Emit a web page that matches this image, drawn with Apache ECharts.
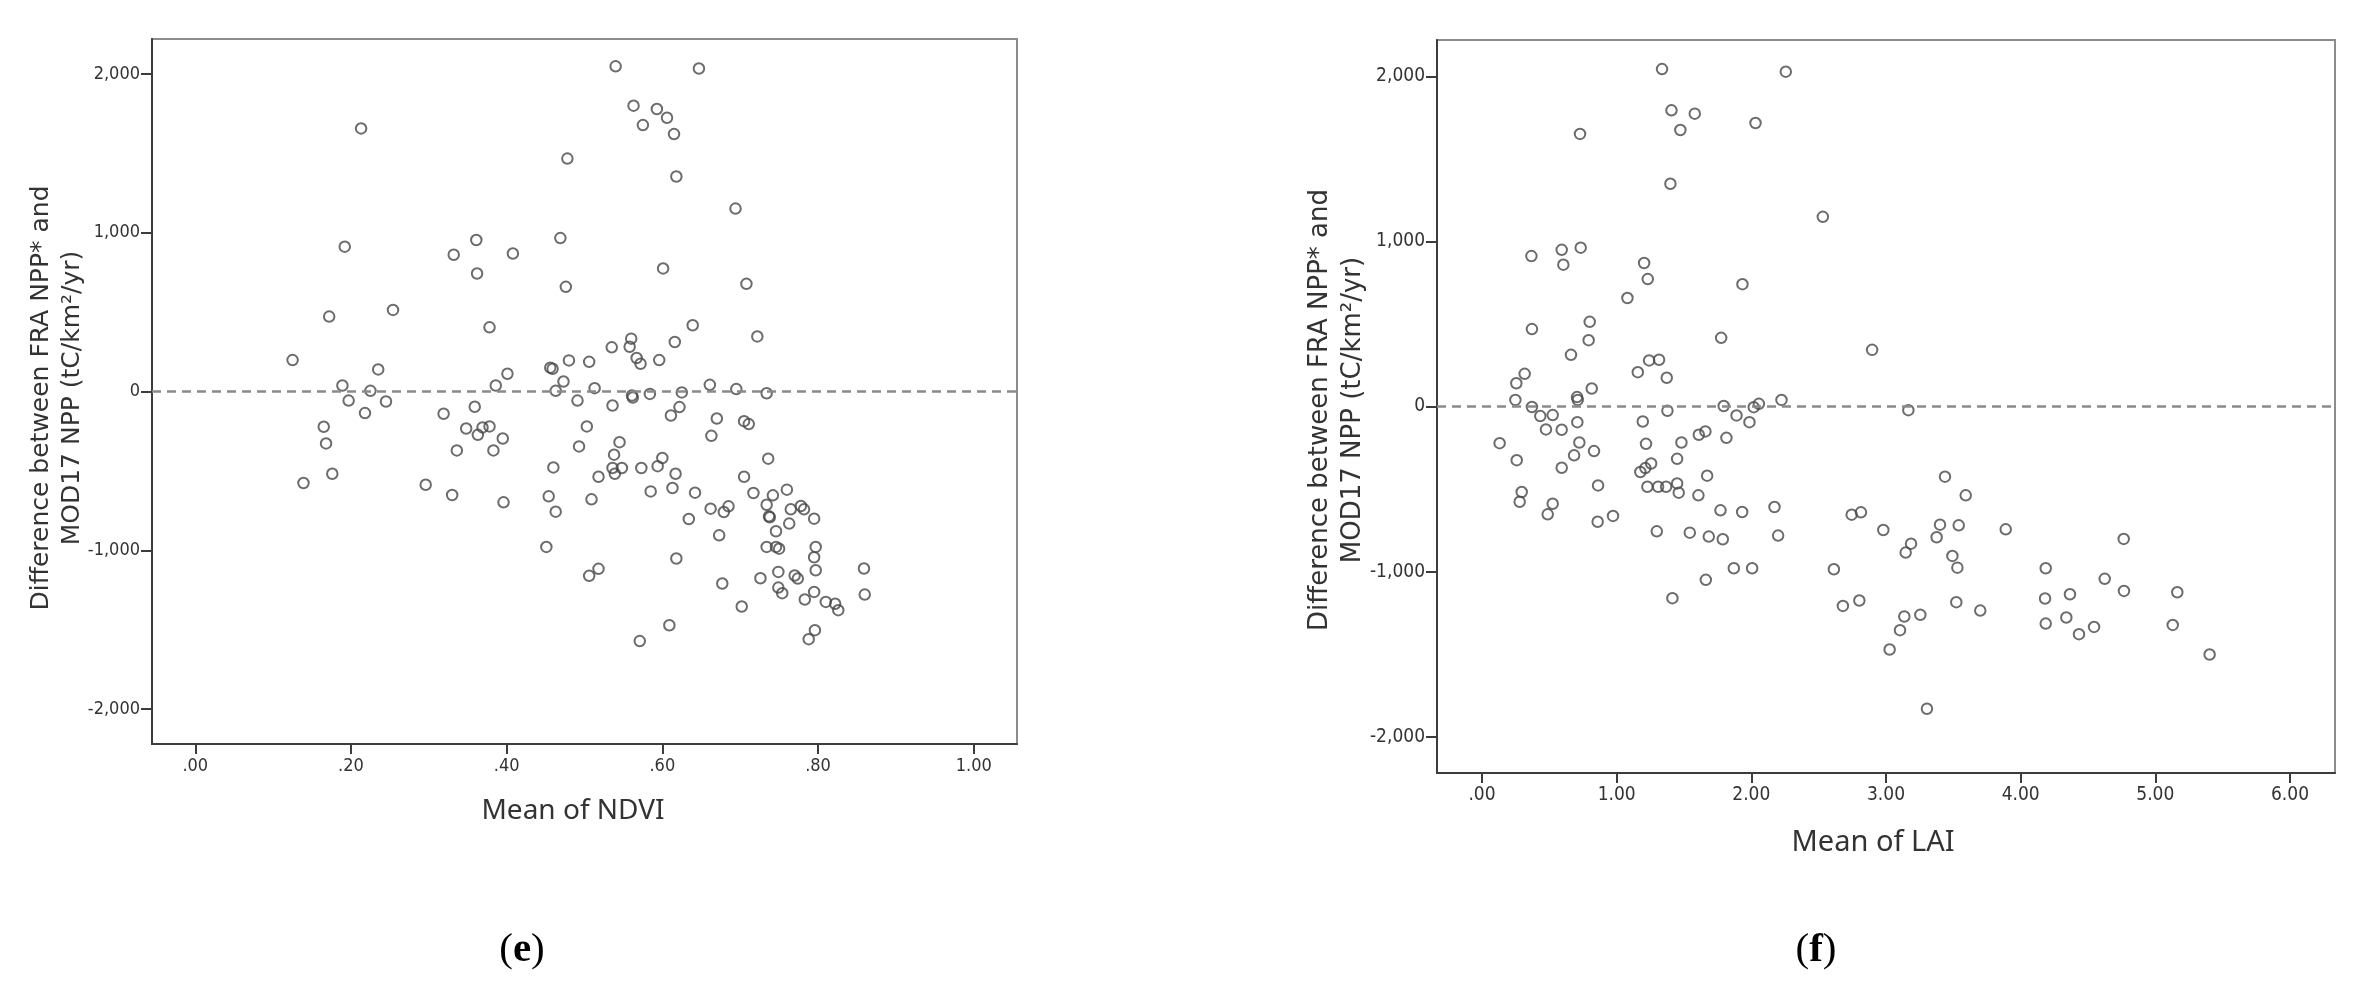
<!DOCTYPE html>
<html lang="en">
<head>
    <meta charset="UTF-8">
    <title>Difference between FRA NPP* and MOD17 NPP</title>
    <style>
        html, body { margin: 0; padding: 0; background: #fff; }
        #main { width: 2361px; height: 985px; }
    </style>
</head>
<body>
<div id="main"></div>
<script src="https://cdn.jsdelivr.net/npm/echarts@6/dist/echarts.min.js"></script>
<script>
    // (e) mean of NDVI vs difference
    const ndviMean = [
        0.213, 0.478, 0.192, 0.332, 0.361, 0.362, 0.408, 0.469, 0.476, 0.172, 0.254, 0.378, 0.125, 0.235, 0.189, 0.225,
        0.386, 0.401, 0.456, 0.459, 0.473, 0.463, 0.480,
        0.540, 0.647, 0.563, 0.593, 0.606, 0.575, 0.615, 0.618, 0.694, 0.601, 0.708, 0.639, 0.722, 0.560, 0.535, 0.558,
        0.616, 0.567, 0.572, 0.596, 0.506, 0.513, 0.661, 0.695, 0.734, 0.625, 0.584, 0.561, 0.562,
        0.491, 0.536, 0.622, 0.611, 0.503, 0.493, 0.545, 0.538, 0.536, 0.539, 0.548, 0.518, 0.509, 0.573, 0.594, 0.600,
        0.617, 0.585, 0.613, 0.642, 0.670, 0.663, 0.705, 0.711, 0.736, 0.705, 0.717, 0.742, 0.760, 0.734, 0.737, 0.738,
        0.765, 0.778, 0.782, 0.795, 0.763, 0.746, 0.662, 0.685, 0.679, 0.634, 0.673, 0.734, 0.746, 0.750, 0.797, 0.795,
        0.797, 0.618, 0.518, 0.506, 0.677, 0.726, 0.749, 0.770, 0.774, 0.749, 0.754, 0.702, 0.783, 0.795, 0.810, 0.822,
        0.826, 0.859, 0.860, 0.609, 0.571, 0.796, 0.788,
        0.197, 0.245, 0.218, 0.165, 0.168, 0.176, 0.139, 0.319, 0.359, 0.348, 0.363, 0.369, 0.378, 0.395, 0.336, 0.383,
        0.296, 0.330, 0.396, 0.460, 0.454, 0.463, 0.451
    ];
    const ndviDiff = [
        1657, 1467, 912, 861, 954, 743, 869, 966, 659, 472, 514, 404, 198, 139, 38, 4,
        38, 112, 150, 143, 63, 4, 196,
        2048, 2034, 1800, 1779, 1724, 1678, 1621, 1354, 1152, 775, 678, 417, 347, 333, 278, 282,
        312, 211, 175, 198, 187, 21, 42, 15, -11, -6, -15, -25, -38,
        -57, -88, -98, -151, -220, -346, -319, -398, -482, -518, -482, -537, -679, -482, -470, -419,
        -518, -629, -608, -637, -170, -279, -187, -205, -423, -537, -639, -654, -618, -713, -786, -792,
        -742, -721, -742, -801, -832, -880, -738, -723, -759, -803, -906, -979, -979, -990, -979, -1044,
        -1126, -1052, -1117, -1161, -1209, -1176, -1136, -1159, -1178, -1235, -1270, -1354, -1310, -1262, -1325, -1337,
        -1377, -1115, -1279, -1472, -1572, -1503, -1560,
        -57, -63, -136, -222, -327, -518, -576, -140, -96, -233, -273, -226, -220, -296, -371, -371,
        -587, -652, -698, -478, -660, -757, -979
    ];

    // (f) mean of LAI vs difference
    const laiMean = [
        1.337, 2.256, 1.407, 1.580, 1.473, 2.031, 0.728, 1.399, 2.531, 0.367, 0.592, 0.733, 0.604, 1.204, 1.231, 1.080,
        1.934, 0.371, 0.800, 0.792, 0.661, 1.776, 0.317, 0.255, 1.241, 1.315, 1.157, 1.372, 0.815, 0.248, 0.706, 0.711,
        2.224, 2.056, 0.371, 1.795, 2.018, 2.897,
        0.433, 0.525, 0.475, 0.592, 0.708, 0.723, 0.131, 0.258, 0.684, 0.832, 0.592, 0.295, 0.280, 0.525, 0.488, 0.862,
        0.859, 0.973, 1.194, 1.218, 1.256, 1.213, 1.176, 1.228, 1.308, 1.367, 1.449, 1.461, 1.449, 1.481, 1.377, 1.610,
        1.659, 1.815, 1.672, 1.607, 1.298, 1.543, 1.684, 1.788, 1.771, 1.932, 2.172, 2.199, 1.870, 2.006, 1.662, 1.414,
        2.613, 2.680, 1.890, 1.986,
        3.166, 3.438, 3.592, 2.745, 2.814, 2.980, 3.401, 3.376, 3.540, 3.186, 3.146, 3.493, 3.530, 3.889, 2.802, 3.136,
        3.104, 3.255, 3.027, 3.522, 3.700, 3.304, 4.186, 4.181, 4.186, 4.366, 4.339, 4.433, 4.545, 4.624, 4.765, 4.767,
        5.163, 5.129, 5.403
    ];
    const laiDiff = [
        2044, 2028, 1794, 1774, 1675, 1717, 1651, 1349, 1149, 911, 949, 962, 859, 869, 772, 657,
        741, 469, 513, 402, 313, 416, 198, 141, 279, 283, 208, 174, 109, 40, 57, 40,
        40, 16, -3, 3, -4, 343,
        -58, -52, -139, -141, -95, -218, -222, -325, -296, -270, -371, -518, -577, -589, -653, -478,
        -698, -663, -91, -226, -345, -373, -397, -486, -486, -486, -466, -522, -317, -218, -26, -171,
        -151, -190, -419, -538, -756, -764, -788, -804, -629, -639, -609, -782, -980, -980, -1050, -1161,
        -986, -1208, -54, -95,
        -22, -425, -538, -655, -641, -748, -716, -792, -720, -831, -885, -905, -976, -744, -1175, -1272,
        -1355, -1262, -1472, -1185, -1236, -1831, -980, -1163, -1315, -1137, -1278, -1379, -1335, -1044, -802, -1117,
        -1125, -1323, -1502
    ];

    const diffTicks = [-2000, -1000, 0, 1000, 2000];
    const ndviTicks = [0, 0.2, 0.4, 0.6, 0.8, 1.0];
    const laiTicks = [0, 1, 2, 3, 4, 5, 6];

    const tickFont = "'Liberation Sans Narrow', 'DejaVu Sans Condensed', 'Arial Narrow', sans-serif";
    const darkLine = '#3c3c3c';

    function zip(xs, ys) {
        return xs.map((x, i) => [x, ys[i]]);
    }

    // SPSS style ".20", "1.00"
    function meanLabel(v) {
        return v.toFixed(2).replace(/^0/, '');
    }

    function xAxisOf(gridIndex, min, max, ticks, fontSize) {
        return {
            type: 'value', gridIndex: gridIndex, min: min, max: max,
            axisLine: {show: true, onZero: false, lineStyle: {color: darkLine, width: 2}},
            axisTick: {show: true, length: 10, customValues: ticks, lineStyle: {color: darkLine, width: 2}},
            axisLabel: {
                customValues: ticks, margin: 13, formatter: meanLabel,
                fontFamily: tickFont, fontSize: fontSize, color: '#333'
            },
            splitLine: {show: false}
        };
    }

    function yAxisOf(gridIndex, fontSize) {
        return {
            type: 'value', gridIndex: gridIndex, min: -2220, max: 2220,
            axisLine: {show: true, onZero: false, lineStyle: {color: darkLine, width: 2}},
            axisTick: {show: true, length: 11, customValues: diffTicks, lineStyle: {color: darkLine, width: 2}},
            axisLabel: {
                customValues: diffTicks, margin: 12,
                formatter: v => v.toLocaleString('en-US'),
                fontFamily: tickFont, fontSize: fontSize, color: '#333'
            },
            splitLine: {show: false}
        };
    }

    function scatterOf(index, data) {
        return {
            type: 'scatter', xAxisIndex: index, yAxisIndex: index,
            data: data,
            symbol: 'circle', symbolSize: 10.5,
            itemStyle: {color: 'rgba(0,0,0,0)', borderColor: '#474747', borderWidth: 2},
            emphasis: {disabled: true},
            markLine: {
                silent: true, symbol: 'none', animation: false,
                label: {show: false},
                lineStyle: {type: [9, 6], color: '#8a8a8a', width: 2.5},
                data: [{yAxis: 0}]
            }
        };
    }

    function panelLabel(text, x, y) {
        return {
            type: 'text', x: x, y: y,
            style: {
                text: '{a|(}{b|' + text + '}{a|)}',
                align: 'center', verticalAlign: 'middle',
                rich: {
                    a: {fontFamily: "'Liberation Serif', serif", fontSize: 41, fill: '#000'},
                    b: {fontFamily: "'Liberation Serif', serif", fontSize: 41, fontWeight: 'bold', fill: '#000'}
                }
            }
        };
    }

    const yTitle = 'Difference between FRA NPP* and\nMOD17 NPP (tC/km\u00b2/yr)';

    let myChart = echarts.init(document.getElementById('main'));
    let option = {
        animation: false,
        backgroundColor: '#fff',
        grid: [
            {left: 152, top: 39, width: 865, height: 705, show: true, borderColor: '#8c8c8c', borderWidth: 2},
            {left: 1437, top: 40, width: 898, height: 733, show: true, borderColor: '#8c8c8c', borderWidth: 2}
        ],
        xAxis: [
            xAxisOf(0, -0.0556, 1.0556, ndviTicks, 18),
            xAxisOf(1, -0.334, 6.334, laiTicks, 19)
        ],
        yAxis: [
            yAxisOf(0, 18),
            yAxisOf(1, 19)
        ],
        series: [
            scatterOf(0, zip(ndviMean, ndviDiff)),
            scatterOf(1, zip(laiMean, laiDiff))
        ],
        graphic: [
            {
                type: 'text', x: 57, y: 398, rotation: Math.PI / 2,
                style: {
                    text: yTitle, align: 'center', verticalAlign: 'middle',
                    fontFamily: "'DejaVu Sans', sans-serif", fontSize: 25, lineHeight: 31, fill: '#333'
                }
            },
            {
                type: 'text', x: 1337, y: 410, rotation: Math.PI / 2,
                style: {
                    text: yTitle, align: 'center', verticalAlign: 'middle',
                    fontFamily: "'DejaVu Sans', sans-serif", fontSize: 26, lineHeight: 33, fill: '#333'
                }
            },
            {
                type: 'text', x: 573, y: 811,
                style: {
                    text: 'Mean of NDVI', align: 'center', verticalAlign: 'middle',
                    fontFamily: "'Noto Sans', sans-serif", fontSize: 28, fill: '#333'
                }
            },
            {
                type: 'text', x: 1873, y: 843,
                style: {
                    text: 'Mean of LAI', align: 'center', verticalAlign: 'middle',
                    fontFamily: "'Noto Sans', sans-serif", fontSize: 29, fill: '#333'
                }
            },
            panelLabel('e', 522, 950),
            panelLabel('f', 1816, 950)
        ]
    };
    myChart.setOption(option);
</script>
</body>
</html>
